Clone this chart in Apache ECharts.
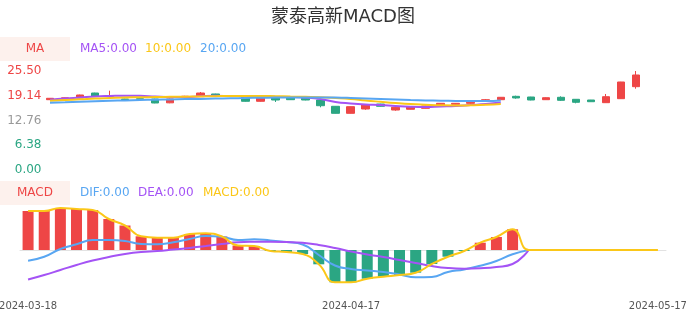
<!DOCTYPE html>
<html>
<head>
<meta charset="utf-8">
<script src="https://cdn.jsdelivr.net/npm/echarts/dist/echarts.min.js"></script>
<style>html,body{margin:0;padding:0;background:#fff}#c{width:686px;height:320px}</style>
</head>
<body>
<div id="c"></div>
<script>
const dates = ['2024-03-18','2024-03-19','2024-03-20','2024-03-21','2024-03-22','2024-03-25','2024-03-26','2024-03-27','2024-03-28','2024-03-29',
'2024-04-01','2024-04-02','2024-04-03','2024-04-08','2024-04-09','2024-04-10','2024-04-11','2024-04-12','2024-04-15','2024-04-16',
'2024-04-17','2024-04-18','2024-04-19','2024-04-22','2024-04-23','2024-04-24','2024-04-25','2024-04-26','2024-04-29','2024-04-30',
'2024-05-06','2024-05-07','2024-05-08','2024-05-09','2024-05-10','2024-05-13','2024-05-14','2024-05-15','2024-05-16','2024-05-17'];
const opens  = [18.11,18.30,18.55,19.83,19.00,18.29,18.35,18.29,17.30,18.90,18.98,19.58,19.00,18.73,17.70,18.55,18.55,18.47,18.03,16.41,14.60,15.71,17.00,15.45,15.64,15.89,16.74,16.92,17.18,17.85,18.11,18.98,18.80,18.11,18.73,18.21,18.03,17.34,18.37,21.46];
const closes = [18.47,18.60,19.32,18.98,19.15,18.15,18.22,17.26,18.30,19.00,19.83,18.98,19.10,17.70,18.55,18.03,18.11,18.03,16.56,14.60,16.31,16.74,16.41,16.15,16.31,16.49,17.18,17.18,17.44,18.11,18.73,18.55,18.03,18.62,17.95,17.44,17.59,18.88,22.67,24.47];
const lows   = [18.05,18.25,18.50,18.90,18.95,18.10,18.15,17.20,17.20,18.85,18.90,18.90,18.95,17.60,17.60,17.52,18.05,17.95,16.15,14.55,14.55,15.53,16.35,15.27,15.60,15.85,16.70,16.85,17.10,17.80,18.05,18.37,17.95,18.05,17.77,17.18,17.55,17.30,18.30,20.94];
const highs  = [18.52,18.65,19.40,19.90,20.43,18.35,18.40,18.35,18.40,19.10,20.09,19.65,19.15,18.80,18.60,18.60,18.60,18.50,18.10,16.45,16.35,16.80,17.05,16.20,16.35,16.55,17.25,17.25,17.50,18.29,18.80,19.14,18.85,18.70,18.98,18.25,18.05,19.58,22.70,25.50];
const ma5  = [18.11,18.42,18.67,18.93,19.06,19.14,19.11,18.93,18.80,18.80,18.98,19.11,19.06,19.01,18.93,18.85,18.80,18.67,18.29,17.52,17.13,16.87,16.74,16.49,16.30,16.23,16.36,16.49,16.74,17.00,17.39];
const ma10 = [17.85,18.03,18.21,18.42,18.55,18.67,18.73,18.80,18.85,18.88,18.93,19.01,19.06,19.06,19.06,19.01,18.93,18.85,18.75,18.55,18.29,17.90,17.57,17.26,17.00,16.82,16.67,16.61,16.67,16.79,17.00];
const ma20 = [17.34,17.44,17.57,17.70,17.82,17.93,18.03,18.11,18.18,18.26,18.31,18.39,18.47,18.55,18.60,18.65,18.67,18.70,18.70,18.65,18.55,18.42,18.29,18.16,18.03,17.93,17.85,17.80,17.77,17.77,17.90];
const dif = [-0.107,-0.067,0.01,0.057,0.10,0.10,0.09,0.06,0.057,0.077,0.11,0.14,0.133,0.10,0.107,0.095,0.08,0.055,-0.05,-0.155,-0.19,-0.205,-0.22,-0.245,-0.273,-0.27,-0.22,-0.195,-0.157,-0.11,-0.043,0];
const dea = [-0.295,-0.25,-0.20,-0.15,-0.105,-0.07,-0.04,-0.02,-0.01,0.005,0.02,0.04,0.06,0.078,0.082,0.083,0.08,0.072,0.05,0.02,-0.015,-0.045,-0.07,-0.10,-0.13,-0.16,-0.18,-0.187,-0.183,-0.17,-0.14,0];
const macd = [0.39,0.39,0.42,0.41,0.40,0.31,0.245,0.137,0.123,0.123,0.16,0.167,0.135,0.045,0.04,-0.01,-0.02,-0.04,-0.143,-0.323,-0.323,-0.287,-0.267,-0.25,-0.227,-0.14,-0.067,-0.01,0.073,0.13,0.207,0,0,0,0,0,0,0,0,0];
const yTickInterval = 6.38;
const yMax = 25.50;
const dateLabelIdx = [0,20,39];

const FONT = "'DejaVu Sans', 'Noto Sans CJK SC', sans-serif";
const RED = '#ee4646', GREEN = '#2ba683', PURPLE = '#a453f5', YELLOW = '#fbc718', BLUE = '#58a6f2';
const kdata = opens.map((o,i)=>[o, closes[i], lows[i], highs[i]]);

const chart = echarts.init(document.getElementById('c'), null, {renderer:'canvas'});
const txt = (x,y,s,c,align)=>({type:'text',x:x,y:y,style:{text:s,fill:c,font:"12px 'DejaVu Sans', sans-serif",textAlign:align||'left',textVerticalAlign:'middle'}});
chart.setOption({
  animation:false,
  textStyle:{fontFamily:FONT},
  title:{text:'蒙泰高新MACD图',left:'center',top:3,textStyle:{fontSize:18,fontWeight:'normal',color:'#333',fontFamily:FONT}},
  graphic:[
    {type:'rect',shape:{x:0,y:37,width:70,height:24},style:{fill:'#fdf1ed'}},
    txt(35,49,'MA',RED,'center'),
    txt(80,49,'MA5:0.00',PURPLE),
    txt(145,49,'10:0.00',YELLOW),
    txt(200,49,'20:0.00',BLUE),
    {type:'rect',shape:{x:0,y:181,width:70,height:24},style:{fill:'#fdf1ed'}},
    txt(35,193,'MACD',RED,'center'),
    txt(80,193,'DIF:0.00',BLUE),
    txt(138,193,'DEA:0.00',PURPLE),
    txt(203,193,'MACD:0.00',YELLOW)
  ],
  grid:[
    {left:42.5,right:42.5,top:71,height:99,containLabel:false,outerBoundsMode:'none'},
    {left:20,right:20,top:200,height:90,containLabel:false,outerBoundsMode:'none'}
  ],
  xAxis:[
    {type:'category',gridIndex:0,data:dates,boundaryGap:true,axisLine:{show:false},axisTick:{show:false},axisLabel:{show:false},splitLine:{show:false}},
    {type:'category',gridIndex:1,data:dates,boundaryGap:true,axisLine:{show:false,onZero:false},axisTick:{show:false},splitLine:{show:false},
      axisLabel:{show:true,interval:(i)=>dateLabelIdx.indexOf(i)>=0,fontSize:10,color:'#555',margin:11,fontFamily:FONT}},
    {type:'category',gridIndex:1,data:dates,boundaryGap:true,axisLine:{show:true,onZero:true,lineStyle:{color:'#e2e2e2',width:1}},axisTick:{show:false},axisLabel:{show:false},splitLine:{show:false}}
  ],
  yAxis:[
    {type:'value',gridIndex:0,min:0,max:yMax,interval:yTickInterval,axisLine:{show:false},axisTick:{show:false},splitLine:{show:false},
      axisLabel:{margin:1,fontSize:12,fontFamily:FONT,formatter:(v)=>v.toFixed(2),
        color:(v)=>{const n=Number(v); if(Math.abs(n-yTickInterval*2)<0.01) return '#999'; return n>yTickInterval*2?RED:GREEN;}}},
    {type:'value',gridIndex:1,min:-0.4,max:0.5,axisLine:{show:false},axisTick:{show:false},splitLine:{show:false},axisLabel:{show:false}}
  ],
  series:[
    {type:'candlestick',xAxisIndex:0,yAxisIndex:0,data:kdata,barWidth:8,
      itemStyle:{color:RED,color0:GREEN,borderColor:RED,borderColor0:GREEN,borderWidth:1}},
    {type:'line',name:'MA5',xAxisIndex:0,yAxisIndex:0,data:ma5,smooth:true,showSymbol:false,lineStyle:{width:2,color:PURPLE},itemStyle:{color:PURPLE}},
    {type:'line',name:'MA10',xAxisIndex:0,yAxisIndex:0,data:ma10,smooth:true,showSymbol:false,lineStyle:{width:2,color:YELLOW},itemStyle:{color:YELLOW}},
    {type:'line',name:'MA20',xAxisIndex:0,yAxisIndex:0,data:ma20,smooth:true,showSymbol:false,lineStyle:{width:2,color:BLUE},itemStyle:{color:BLUE}},
    {type:'bar',xAxisIndex:1,yAxisIndex:1,data:macd,barWidth:11,
      itemStyle:{color:(p)=>p.value>=0?RED:GREEN}},
    {type:'line',name:'DIF',xAxisIndex:1,yAxisIndex:1,data:dif,smooth:true,showSymbol:false,lineStyle:{width:2,color:BLUE},itemStyle:{color:BLUE}},
    {type:'line',name:'DEA',xAxisIndex:1,yAxisIndex:1,data:dea,smooth:true,showSymbol:false,lineStyle:{width:2,color:PURPLE},itemStyle:{color:PURPLE}},
    {type:'line',name:'MACD',xAxisIndex:1,yAxisIndex:1,data:macd,smooth:true,showSymbol:false,lineStyle:{width:2,color:YELLOW},itemStyle:{color:YELLOW}}
  ]
});
</script>
</body>
</html>
